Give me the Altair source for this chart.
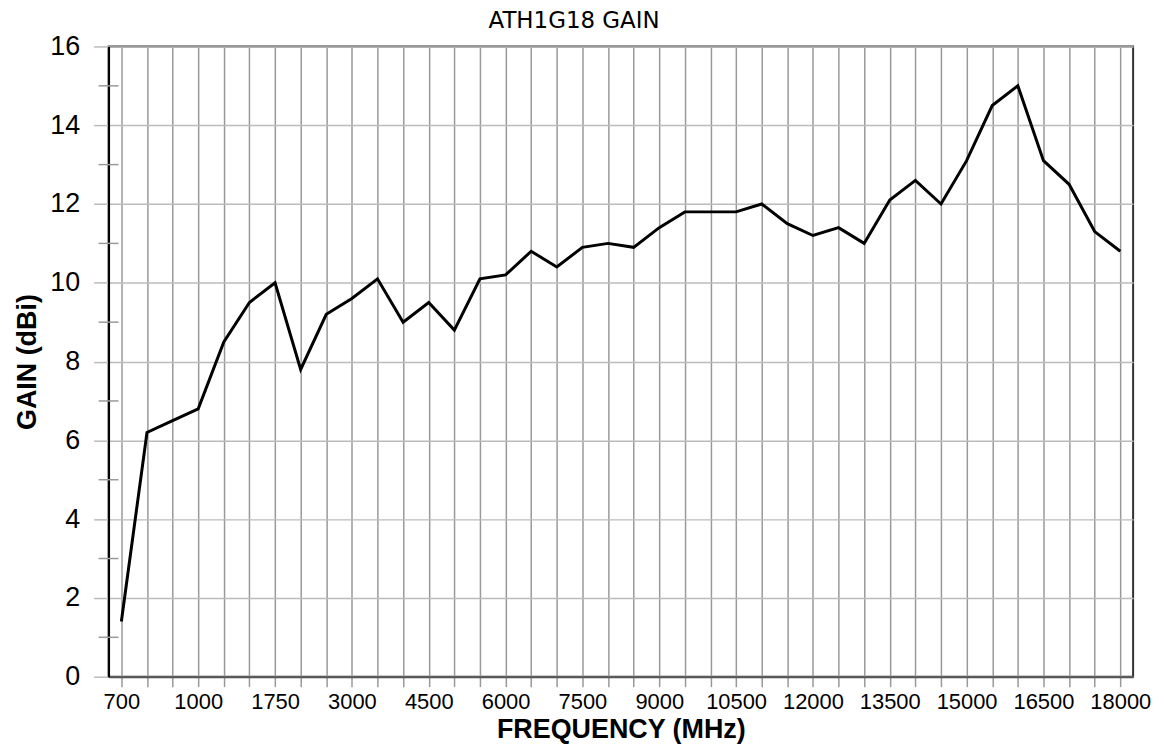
import altair as alt
import pandas as pd

freqs = [700, 800, 900, 1000, 1250, 1500, 1750, 2000, 2500, 3000, 3500, 4000,
         4500, 5000, 5500, 6000, 6500, 7000, 7500, 8000, 8500, 9000, 9500,
         10000, 10500, 11000, 11500, 12000, 12500, 13000, 13500, 14000, 14500,
         15000, 15500, 16000, 16500, 17000, 17500, 18000]
gain = [1.4, 6.2, 6.5, 6.8, 8.5, 9.5, 10.0, 7.8, 9.2, 9.6, 10.1, 9.0, 9.5,
        8.8, 10.1, 10.2, 10.8, 10.4, 10.9, 11.0, 10.9, 11.4, 11.8, 11.8, 11.8,
        12.0, 11.5, 11.2, 11.4, 11.0, 12.1, 12.6, 12.0, 13.1, 14.5, 15.0, 13.1,
        12.5, 11.3, 10.8]
y_major = [0, 2, 4, 6, 8, 10, 12, 14, 16]
y_minor = [1, 3, 5, 7, 9, 11, 13, 15]

freq_labels = [str(f) for f in freqs]
shown_labels = freq_labels[::3]

df = pd.DataFrame({"freq": freq_labels, "gain": gain})
minor_df = pd.DataFrame({"gain": y_minor})

label_list = "[" + ",".join("'%s'" % s for s in shown_labels) + "]"

x_enc = alt.X(
    "freq:O",
    sort=freq_labels,
    scale=alt.Scale(type="point", padding=0.5),
    axis=alt.Axis(
        title="FREQUENCY (MHz)",
        titleFont="Liberation Sans", titleFontSize=27, titleFontWeight="bold",
        titleColor="black", titlePadding=4,
        labelFont="Liberation Sans", labelFontSize=22, labelColor="black",
        labelAngle=0, labelPadding=5, labelOverlap=False,
        labelExpr="indexof(" + label_list + ", datum.label) >= 0 ? datum.label : ''",
        tickSize=10, tickColor="#999999", tickWidth=1.5,
        domainColor="#555555", domainWidth=2,
        grid=True, gridColor="#999999", gridWidth=1.5,
    ),
)

y_scale = alt.Scale(domain=[0, 16], nice=False)

line = alt.Chart(df).mark_line(color="black", strokeWidth=3).encode(
    x=x_enc,
    y=alt.Y(
        "gain:Q",
        scale=y_scale,
        axis=alt.Axis(
            title="GAIN (dBi)", values=y_major,
            titleFont="Liberation Sans", titleFontSize=27, titleFontWeight="bold",
            titleColor="black", titlePadding=8,
            labelFont="Liberation Sans", labelFontSize=27, labelColor="black",
            labelPadding=14,
            tickSize=15, tickColor="#bbbbbb", tickWidth=1.5,
            domainColor="black", domainWidth=2,
            grid=True, gridColor="#bbbbbb", gridWidth=1.5,
        ),
    ),
)

minor = alt.Chart(minor_df).mark_rule(color="#999999", strokeWidth=1.5).encode(
    y=alt.Y("gain:Q", scale=y_scale, title="GAIN (dBi)"),
    x=alt.value(-10),
    x2=alt.value(10),
)

chart = alt.layer(line, minor).properties(
    width=1029,
    height=633,
    title=alt.TitleParams(
        "ATH1G18 GAIN", font="DejaVu Sans", fontSize=23, fontWeight="normal",
        color="black", anchor="middle", dx=-47, offset=0,
    ),
    padding={"left": 5, "top": 0, "right": 5, "bottom": 0},
).configure_view(stroke="#333333", strokeWidth=2)

chart.save("out.html", embed_options={"renderer": "svg", "actions": False})
